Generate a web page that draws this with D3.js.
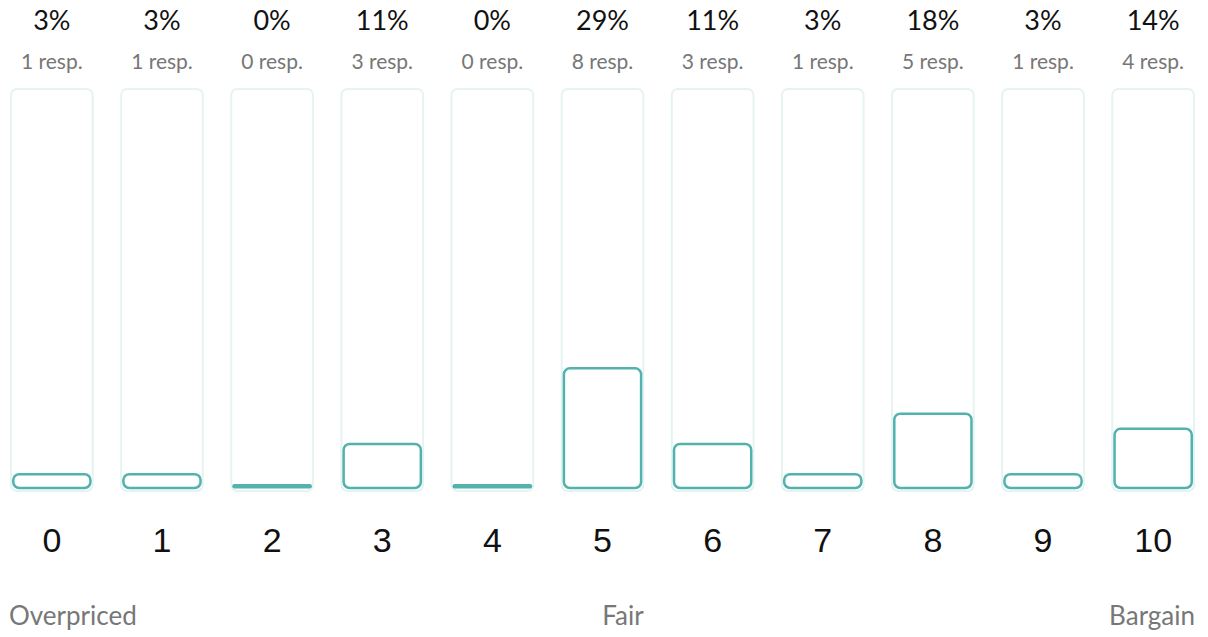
<!DOCTYPE html>
<html>
<head>
<meta charset="utf-8">
<script src="https://cdn.jsdelivr.net/npm/d3@7"></script>
<style>
	html, body { margin: 0; padding: 0; background: #fff; }
	svg { display: block; font-family: "Source Sans Pro", Lato, "Noto Sans", sans-serif; }
</style>
</head>
<body>
<svg id="chart"></svg>
<script>
const scores = ["0", "1", "2", "3", "4", "5", "6", "7", "8", "9", "10"];
const responses = [1, 1, 0, 3, 0, 8, 3, 1, 5, 1, 4];
const endLabels = ["Overpriced", "Fair", "Bargain"];

const width = 1208,
		height = 637,
		teal = "#52b2ad",
		total = d3.sum(responses);

const svg = d3.select("#chart")
	.attr("width", width)
	.attr("height", height);

const x = d3.scaleBand()
	.domain(scores)
	.range([10, 1195])
	.paddingInner(0.24)
	.paddingOuter(0);

// share of responses -> height inside the column
const y = d3.scaleLinear()
	.domain([0, 1])
	.range([488, 80]);

const col = svg.selectAll("g.col")
	.data(scores)
	.enter()
	.append("g")
		.attr("class", "col")
		.attr("transform", (d) => `translate(${x(d)},0)`);

// background columns
col.append("rect")
	.attr("x", 1)
	.attr("y", 89)
	.attr("width", x.bandwidth() - 2)
	.attr("height", 402)
	.attr("rx", 6)
	.attr("fill", "#fff")
	.attr("stroke", "#e6f3f3")
	.attr("stroke-width", 2);

// bars
col.each(function(d, i) {
	const g = d3.select(this);
	const n = responses[i];
	if (n === 0) {
		g.append("rect")
			.attr("x", 2)
			.attr("y", 484)
			.attr("width", x.bandwidth() - 4)
			.attr("height", 4.5)
			.attr("rx", 2.2)
			.attr("fill", teal);
	} else {
		const top = y(n / total);
		g.append("rect")
			.attr("x", 3.25)
			.attr("y", top + 1.25)
			.attr("width", x.bandwidth() - 6.5)
			.attr("height", 488 - top - 1.25)
			.attr("rx", 6)
			.attr("fill", "#fff")
			.attr("stroke", teal)
			.attr("stroke-width", 2.5);
	}
});

// percent labels
col.append("text")
	.attr("x", x.bandwidth() / 2)
	.attr("y", 30)
	.attr("text-anchor", "middle")
	.attr("font-size", 27)
	.attr("fill", "#111")
	.text((d, i) => Math.floor(responses[i] / total * 100) + "%");

col.append("text")
	.attr("x", x.bandwidth() / 2)
	.attr("y", 69)
	.attr("text-anchor", "middle")
	.attr("font-size", 21)
	.attr("fill", "#777")
	.text((d, i) => responses[i] + " resp.");

// score axis
svg.append("g")
	.attr("transform", "translate(0,504)")
	.call(d3.axisBottom(x).tickSize(0).tickPadding(0))
	.call((g) => g.select(".domain").remove())
	.call((g) => g.selectAll("text")
		.attr("dy", null)
		.attr("y", 48)
		.attr("font-size", 34)
		.attr("font-weight", 300)
		.attr("font-family", null)
		.attr("fill", "#111"));

// end labels spread across the width
const ends = svg.append("g")
	.selectAll("text")
	.data(endLabels)
	.enter()
	.append("text")
		.attr("y", 625)
		.attr("font-size", 26)
		.attr("fill", "#777")
		.text((d) => d);

const widths = ends.nodes().map((n) => n.getComputedTextLength());
const left = 9, right = 1195;
const gap = (right - left - d3.sum(widths)) / (widths.length - 1);
let pos = left;
ends.attr("x", (d, i) => {
	const p = pos;
	pos += widths[i] + gap;
	return p;
});
</script>
</body>
</html>
